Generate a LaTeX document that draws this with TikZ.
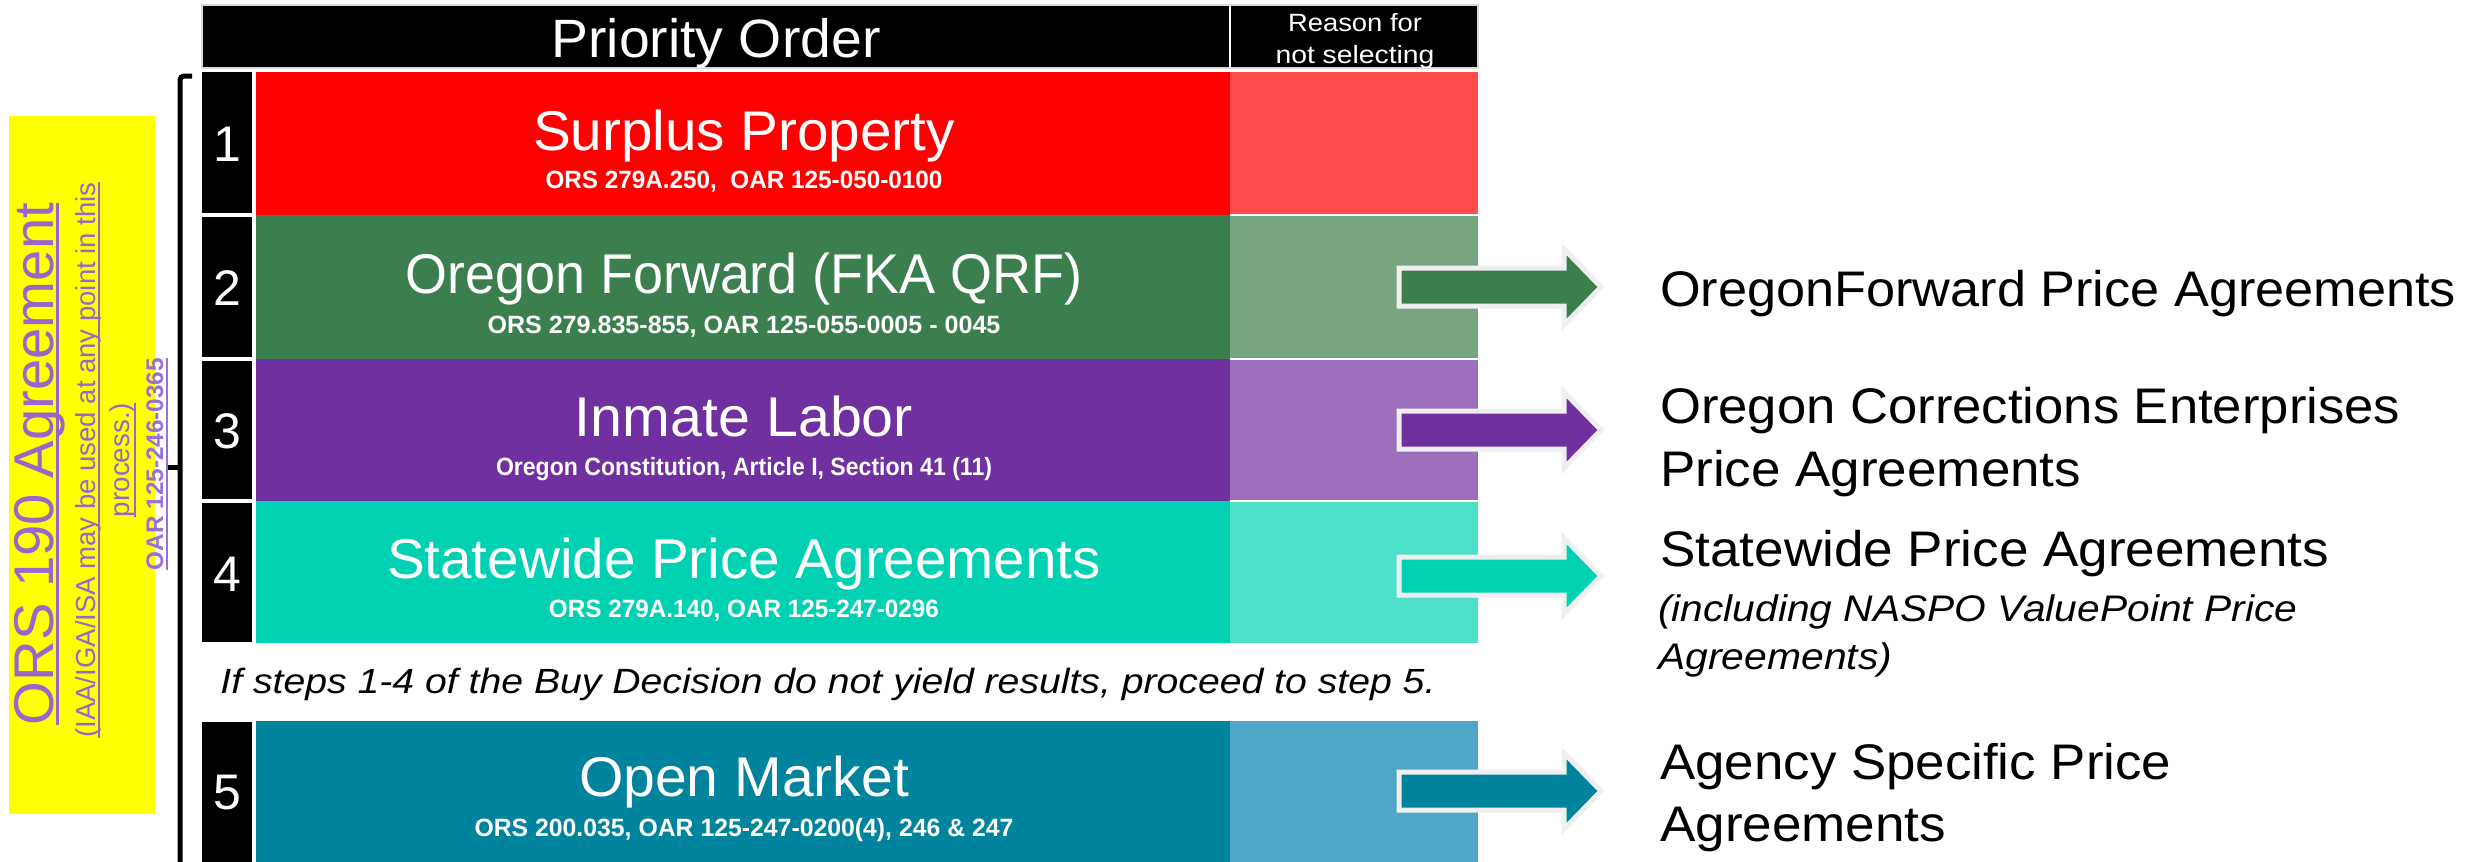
\documentclass[tikz,border=0pt]{standalone}
\usepackage{fontspec}
\setmainfont{Liberation Sans}
\usepackage{graphicx}
\newcommand{\fitw}[2]{\resizebox{#1}{\height}{#2}}
\newcommand{\fs}[1]{\fontsize{#1}{#1}\selectfont}
\newcommand{\ulx}[3]{\sbox0{#3}\rlap{\rule[#1]{\wd0}{#2}}\usebox0}
\definecolor{redA}{HTML}{FF0000}\definecolor{redB}{HTML}{FF4B4B}
\definecolor{grnA}{HTML}{3B7F4F}\definecolor{grnB}{HTML}{77A582}
\definecolor{purA}{HTML}{7030A0}\definecolor{purB}{HTML}{9B6FBB}
\definecolor{tqA}{HTML}{00D1B2}\definecolor{tqB}{HTML}{4DE0C9}
\definecolor{bluA}{HTML}{00839C}\definecolor{bluB}{HTML}{4FA7C8}
\definecolor{ylw}{HTML}{FFFF00}
\definecolor{vio}{HTML}{9966CC}\definecolor{vioL}{HTML}{9A6FD6}
\definecolor{arrbd}{HTML}{EFEFEF}
\begin{document}
\begin{tikzpicture}[x=1pt,y=-1pt,
  txt/.style={inner sep=0pt, outer sep=0pt, anchor=base},
  ttl/.style={txt, text=white, font=\fs{56}},
  sub/.style={txt, text=white, font=\fs{25}\bfseries},
  num/.style={txt, text=white, font=\fs{50}},
  rtxt/.style={inner sep=0pt, anchor=base west, font=\fs{50}, text=black},
  ritx/.style={inner sep=0pt, anchor=base west, font=\fs{37}\itshape, text=black},
  yeltxt/.style={txt, rotate=90, text=vio},
  barrow/.style={draw=arrbd, line width=5pt, line join=miter},
  bracket/.style={line width=5pt, draw=black}]
\fill[white] (0,0) rectangle (2471,862);
\useasboundingbox (0,0) rectangle (2471,862);

% header
\fill[black] (202,5) rectangle (1478,68);
\draw[black!15, line width=1.5pt] (202,5) rectangle (1478,68);
\draw[white, line width=2.5pt] (1230,5) -- (1230,68);
\node[txt, text=white, font=\fs{54}] (hdr) at (716,57) {\fitw{329pt}{Priority Order}};
\node[txt, text=white, font=\fs{25}] (rs1) at (1355,31) {\fitw{134pt}{Reason for}};
\node[txt, text=white, font=\fs{25}] (rs2) at (1355,63) {\fitw{159pt}{not selecting}};

% row 1
\fill[black] (202,72) rectangle (252,213);
\fill[redA] (256,72) rectangle (1230,215);
\fill[redB] (1230,72) rectangle (1478,215);
\node[num] (n1) at (227,161) {1};
\node[ttl] (t1) at (744,150) {\fitw{422pt}{Surplus Property}};
\node[sub] (s1) at (744,188) {\fitw{397pt}{ORS 279A.250,\ \ OAR 125-050-0100}};

% row 2
\fill[black] (202,217) rectangle (252,357);
\fill[grnA] (256,215) rectangle (1230,359);
\fill[grnB] (1230,215) rectangle (1478,359);
\draw[white, line width=1.5pt] (1230,215) -- (1478,215);
\node[num] (n2) at (227,305) {2};
\node[ttl] (t2) at (744,293) {\fitw{677pt}{Oregon Forward (FKA QRF)}};
\node[sub] (s2) at (744,333) {\fitw{513pt}{ORS 279.835-855, OAR 125-055-0005 - 0045}};

% row 3
\fill[black] (202,361) rectangle (252,499);
\fill[purA] (256,359) rectangle (1230,501);
\fill[purB] (1230,359) rectangle (1478,501);
\draw[white, line width=1.5pt] (1230,359) -- (1478,359);
\node[num] (n3) at (227,448) {3};
\node[ttl] (t3) at (744,436) {\fitw{338pt}{Inmate Labor}};
\node[sub] (s3) at (744,475) {\fitw{496pt}{Oregon Constitution, Article I, Section 41 (11)}};

% row 4
\fill[black] (202,503) rectangle (252,642);
\fill[tqA] (256,501) rectangle (1230,643);
\fill[tqB] (1230,501) rectangle (1478,643);
\draw[white, line width=1.5pt] (1230,501) -- (1478,501);
\node[num] (n4) at (227,591) {4};
\node[ttl] (t4) at (744,578) {\fitw{714pt}{Statewide Price Agreements}};
\node[sub] (s4) at (744,617) {\fitw{390pt}{ORS 279A.140, OAR 125-247-0296}};

% note
\node[txt, font=\fs{35}\itshape, text=black] (note) at (828,693) {\fitw{1215pt}{If steps 1-4 of the Buy Decision do not yield results, proceed to step 5.}};

% row 5
\fill[black] (202,722) rectangle (252,870);
\fill[bluA] (256,721) rectangle (1230,870);
\fill[bluB] (1230,721) rectangle (1478,870);
\node[num] (n5) at (227,809) {5};
\node[ttl] (t5) at (744,796) {\fitw{330pt}{Open Market}};
\node[sub] (s5) at (744,836) {\fitw{539pt}{ORS 200.035, OAR 125-247-0200(4), 246 \& 247}};

% block arrows
\foreach \yy/\cc in {287/grnA, 430/purA, 576/tqA, 791/bluA}{
  \filldraw[barrow, fill=\cc, shift={(0,\yy)}]
    (1399,-19) -- (1564,-19) -- (1564,-38) -- (1601,0) -- (1564,38) -- (1564,19) -- (1399,19) -- cycle;
}

% right texts
\node[rtxt] (r2) at (1660,306) {\fitw{796pt}{OregonForward Price Agreements}};
\node[rtxt] (r3a) at (1660,423) {\fitw{740pt}{Oregon Corrections Enterprises}};
\node[rtxt] (r3b) at (1660,486) {\fitw{421pt}{Price Agreements}};
\node[rtxt] (r4a) at (1660,566) {\fitw{669pt}{Statewide Price Agreements}};
\node[ritx] (r4b) at (1658,621) {\fitw{639pt}{(including NASPO ValuePoint Price}};
\node[ritx] (r4c) at (1658,669) {\fitw{234pt}{Agreements)}};
\node[rtxt] (r5a) at (1660,779) {\fitw{511pt}{Agency Specific Price}};
\node[rtxt] (r5b) at (1660,841) {\fitw{286pt}{Agreements}};

% yellow box
\fill[ylw] (9,116) rectangle (155,814);
\node[yeltxt, font=\fs{56}] (y1) at (53,464) {\fitw{522pt}{\ulx{-5.5pt}{3pt}{ORS 190 Agreement}}};
\node[inner sep=0pt, outer sep=0pt, rotate=90, text=vio, align=center, anchor=center,
      font=\fontsize{27.5}{34}\selectfont] (y2) at (106,460)
  {\fitw{555pt}{\ulx{-4.5pt}{2pt}{(IAA/IGA/ISA may be used at any point in this}}\\
   \fitw{114pt}{\ulx{-6pt}{2pt}{process.)}}};
\node[yeltxt, font=\fs{24}\bfseries, text=vioL] (y4) at (163,464) {\fitw{212pt}{\ulx{-5pt}{2pt}{OAR 125-246-0365}}};

% bracket
\draw[bracket, rounded corners=4pt] (192,76) -- (180,76) -- (180,870);
\draw[bracket] (180,467) -- (168,467);
\end{tikzpicture}
\end{document}
